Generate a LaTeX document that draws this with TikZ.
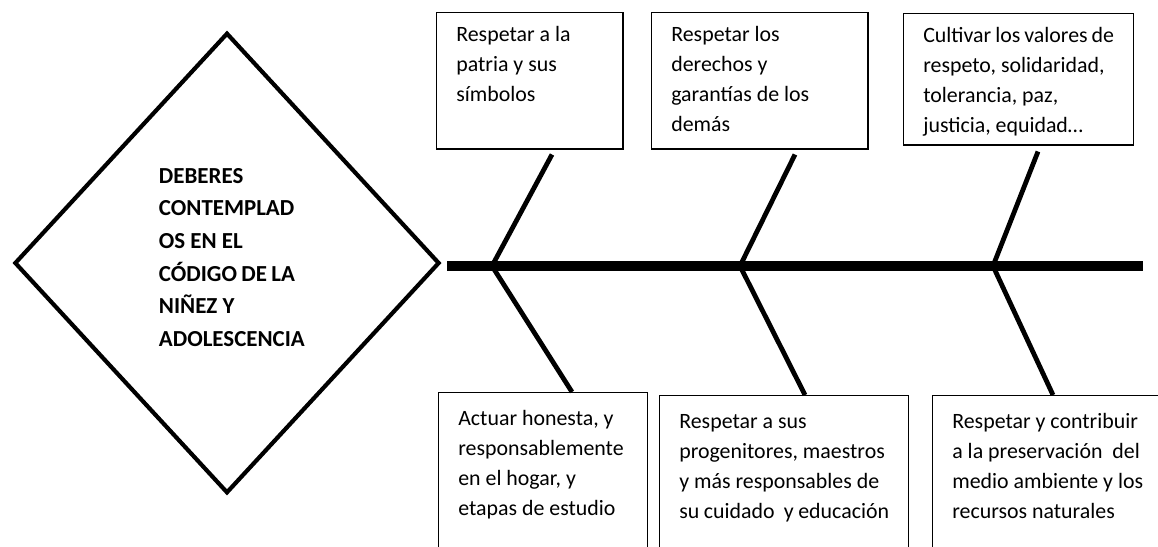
\documentclass[tikz,border=0pt]{standalone}
\usepackage{fontspec}
\setmainfont{Carlito}
\usetikzlibrary{shapes.geometric,calc}
\hyphenpenalty=10000
\tikzset{
  espina/.style={line width=5pt},
  rama/.style={line width=2.3pt},
  caja/.style={draw, line width=0.7pt, anchor=north west, align=flush left,
    inner xsep=9.4pt, inner ysep=0pt, font=\fontsize{10.5}{14.4}\selectfont},
  cajasup/.style={caja, text height=13.9pt},
  cajainf/.style={caja, text height=15.6pt, text depth=70pt},
}
\begin{document}
\begin{tikzpicture}[x=0.48pt,y=-0.48pt]
  \useasboundingbox (0,0) rectangle (1158,546);
  \clip (0,0) rectangle (1158,546);
  % cabeza
  \node[diamond, draw, line width=2pt, minimum width=204pt, minimum height=221pt,
    inner sep=0pt, text width=65.3pt, align=flush left, text depth=84pt,
    font=\bfseries\fontsize{11}{15.7}\selectfont] (dia) at (227,263)
    {DEBERES\\ CONTEMPLAD\\ OS~EN~EL\\ CÓDIGO~DE~LA\\ NIÑEZ~Y\\ ADOLESCENCIA};
  % espina
  \coordinate (ini) at (447,266);
  \coordinate (fin) at (1143,266);
  \coordinate (s1) at (492,266);
  \coordinate (s2) at (740,266);
  \coordinate (s3) at (993,266);
  \draw[espina] (ini) -- (fin);
  % cajas de arriba
  \node[cajasup, text width=70.5pt, text depth=51.4pt] (t1) at (436,12)
    {Respetar a la\\ patria y sus\\ símbolos};
  \node[cajasup, text width=84.9pt, text depth=51.4pt] (t2) at (651,12)
    {Respetar los\\ derechos y\\ garantías de los\\ demás};
  \node[cajasup, text width=91.6pt, text depth=49pt] (t3) at (903,13)
    {Cultivar~los~valores~de\\ respeto, solidaridad,\\ tolerancia, paz,\\ justicia, equidad…};
  % cajas de abajo
  \node[cajainf, text width=81.5pt] (b1) at (438,392)
    {Actuar honesta, y\\ responsablemente\\ en el hogar, y\\ etapas de estudio};
  \node[cajainf, text width=100.7pt] (b2) at (659,395)
    {Respetar a sus\\ progenitores, maestros\\ y más responsables de\\ su cuidado~ y educación};
  \node[cajainf, text width=95pt] (b3) at (932,395)
    {Respetar y contribuir\\ a la preservación~ del\\ medio ambiente y los\\ recursos naturales};
  % ramas
  \draw[rama] (s1) -- ($(t1.south west)+(116,5)$);
  \draw[rama] (s2) -- ($(t2.south west)+(144,5)$);
  \draw[rama] (s3) -- ($(t3.south west)+(135,6)$);
  \draw[rama] (s1) -- ($(b1.north west)+(134,0)$);
  \draw[rama] (s2) -- ($(b2.north west)+(146,0)$);
  \draw[rama] (s3) -- ($(b3.north west)+(121,0)$);
\end{tikzpicture}
\end{document}
